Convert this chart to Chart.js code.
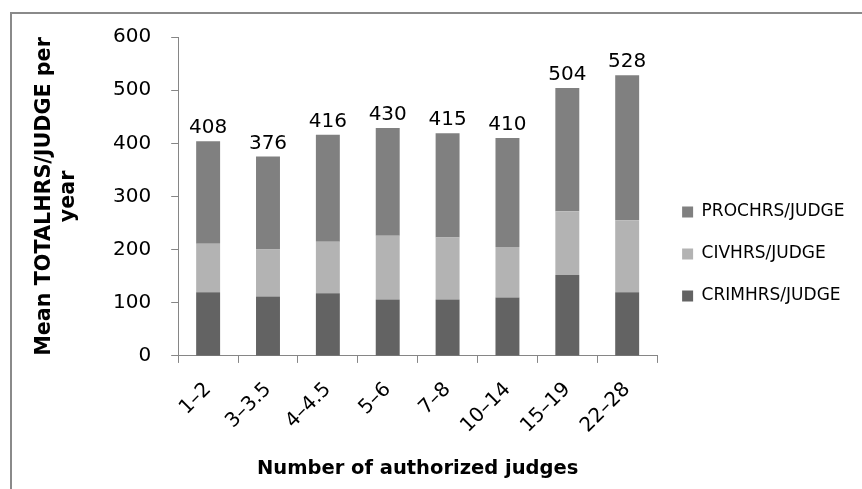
<!DOCTYPE html>
<html>
<head>
<meta charset="utf-8">
<script src="https://cdn.jsdelivr.net/npm/chart.js@4.4.0/dist/chart.umd.min.js"></script>
<style>
    html, body { margin: 0; padding: 0; background: #fff; }
    #wrap { position: relative; width: 862px; height: 489px; overflow: hidden; }
    #marco { position: absolute; left: 10px; top: 12px; width: 860px; height: 490px; border: 2px solid #8a8a8a; box-sizing: border-box; }
    #grafico { position: absolute; left: 0; top: 0; }
</style>
</head>
<body>
<div id="wrap">
    <div id="marco"></div>
    <canvas id="grafico" width="862" height="489"></canvas>
</div>
<script>
// Datos del gráfico
const categorias = ['1–2', '3–3.5', '4–4.5', '5–6', '7–8', '10–14', '15–19', '22–28'];
const crimHrs = [120, 112, 118, 106, 106, 110, 152, 120];
const civHrs = [91, 88, 97, 120, 117, 95, 120, 135];
const procHrs = [193, 175, 201, 203, 196, 205, 232, 273];
const totales = [408, 376, 416, 430, 415, 410, 504, 528];

const gris = '#868686';
const fuente = 'DejaVu Sans';

// Etiquetas con el total encima de cada barra
const etiquetasTotales = {
    id: 'etiquetasTotales',
    afterDatasetsDraw(chart) {
        const ctx = chart.ctx;
        const meta = chart.getDatasetMeta(2);
        ctx.save();
        ctx.font = '20px "' + fuente + '"';
        ctx.fillStyle = '#000';
        ctx.textAlign = 'center';
        ctx.textBaseline = 'alphabetic';
        meta.data.forEach((bar, i) => {
            ctx.fillText(String(totales[i]), bar.x, bar.y - 8);
        });
        ctx.restore();
    }
};

const ctx = document.getElementById('grafico').getContext('2d');
const grafico = new Chart(ctx, {
    type: 'bar',
    data: {
        labels: categorias,
        datasets: [
            { label: 'CRIMHRS/JUDGE', data: crimHrs, backgroundColor: '#636363' },
            { label: 'CIVHRS/JUDGE', data: civHrs, backgroundColor: '#b3b3b3' },
            { label: 'PROCHRS/JUDGE', data: procHrs, backgroundColor: '#808080' }
        ]
    },
    options: {
        responsive: false,
        animation: false,
        devicePixelRatio: 1,
        layout: {
            padding: { left: 20, top: 37, right: 7.5, bottom: 0 }
        },
        datasets: {
            bar: { barPercentage: 0.4, categoryPercentage: 1 }
        },
        scales: {
            x: {
                stacked: true,
                grid: { offset: true, drawOnChartArea: false, drawTicks: true, tickLength: 7, color: gris },
                border: { color: gris },
                ticks: {
                    minRotation: 45,
                    maxRotation: 45,
                    padding: 12,
                    color: '#000',
                    font: { family: fuente, size: 20, lineHeight: 1.6 }
                },
                title: {
                    display: true,
                    text: 'Number of authorized judges',
                    color: '#000',
                    font: { family: fuente, size: 19.5, weight: 'bold' },
                    padding: { top: 5, bottom: 8 }
                }
            },
            y: {
                stacked: true,
                min: 0,
                max: 600,
                grid: { drawOnChartArea: false, drawTicks: true, tickLength: 7, color: gris },
                border: { color: gris },
                ticks: {
                    stepSize: 100,
                    padding: 20,
                    color: '#000',
                    font: { family: fuente, size: 20 }
                },
                title: {
                    display: true,
                    text: ['Mean TOTALHRS/JUDGE per', 'year'],
                    color: '#000',
                    font: { family: fuente, size: 20.7, weight: 'bold', lineHeight: 1.16 },
                    padding: { top: 13, bottom: 12 }
                }
            }
        },
        plugins: {
            legend: {
                position: 'right',
                align: 'start',
                reverse: true,
                title: { display: true, text: ' ', font: { size: 12 }, padding: { top: 127.1, bottom: 0 } },
                labels: {
                    boxWidth: 11,
                    boxHeight: 11,
                    padding: 25,
                    color: '#000',
                    font: { family: fuente, size: 17 }
                }
            },
            tooltip: { enabled: false }
        }
    },
    plugins: [etiquetasTotales]
});
</script>
</body>
</html>
